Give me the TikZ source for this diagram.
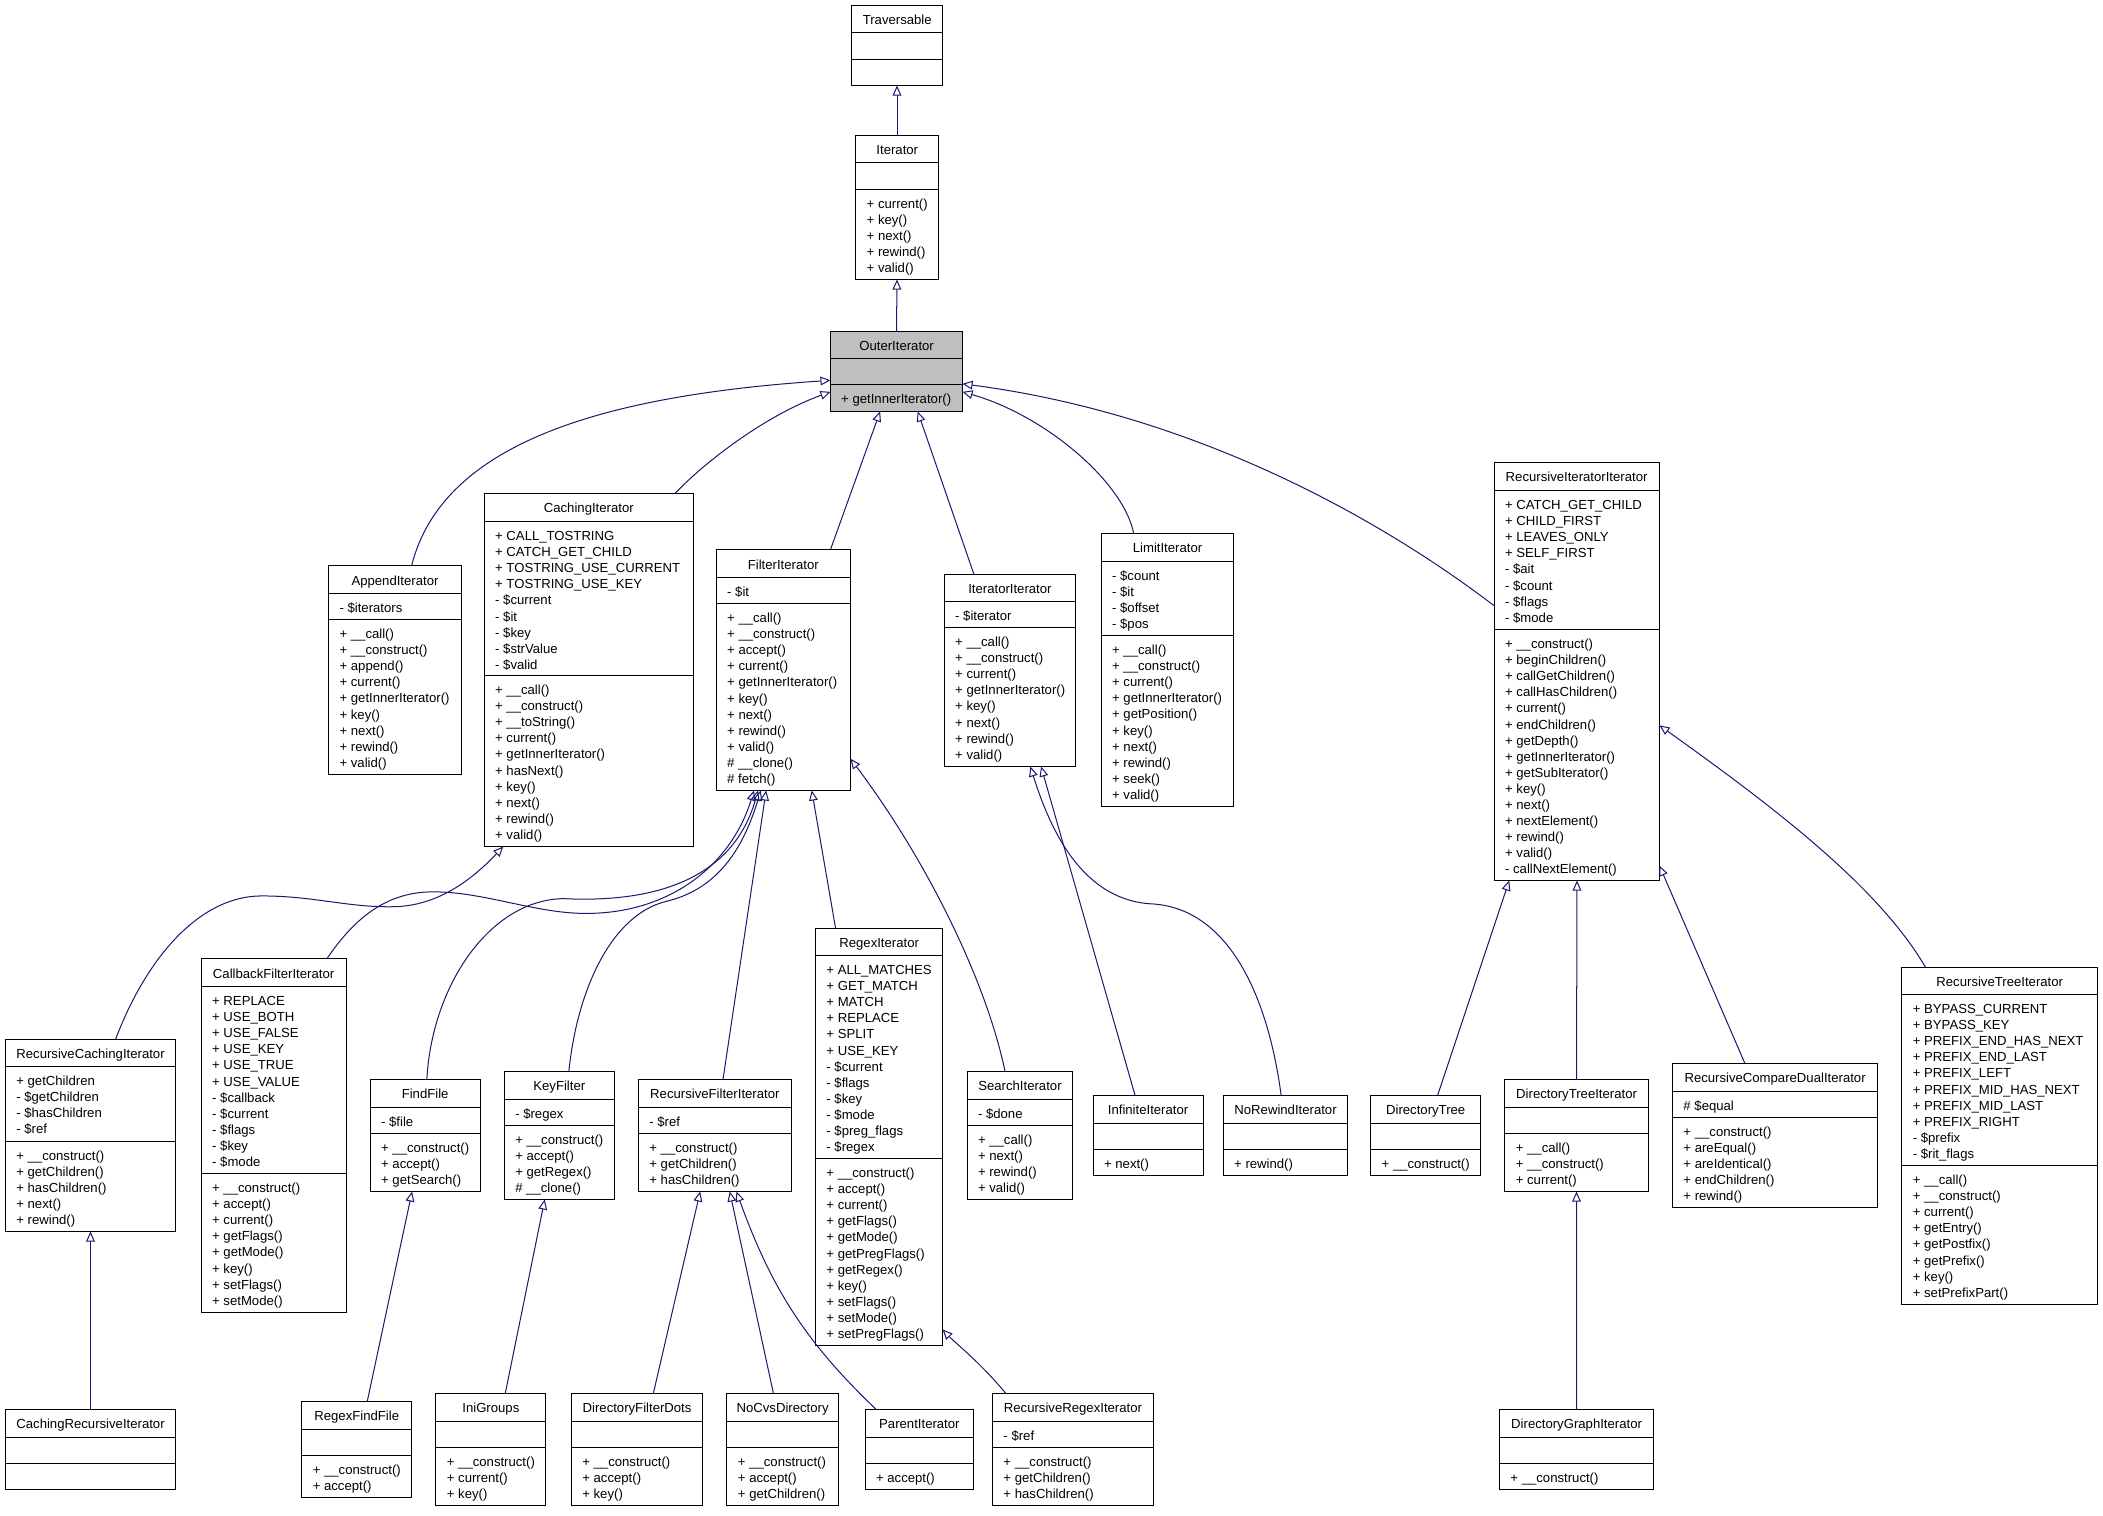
\documentclass[tikz,border=0pt]{standalone}
\usepackage{fontspec}
\setmainfont{Liberation Sans}
\usetikzlibrary{arrows.meta}
\definecolor{edgeblue}{RGB}{25,25,112}
\definecolor{hlgray}{RGB}{191,191,191}
\newcommand{\clsfill}{white}
\pgfmathdeclarefunction{snap}{1}{\pgfmathparse{(floor(#1*1.341199)+0.5)/1.341199}}
\tikzset{
  clsbox/.style={draw=black, line width=0.75pt, inner sep=0pt, outer sep=0pt},
  clsline/.style={draw=black, line width=0.75pt},
  clstitle/.style={anchor=base, inner sep=0pt, font=\fontsize{9.8}{12}\selectfont},
  clstext/.style={anchor=north west, align=left, inner sep=0pt, font=\fontsize{9.8}{12}\selectfont},
  myedge/.style={draw=edgeblue, line width=0.75pt, -{Triangle[open, length=7.5pt, width=6.5pt]}}
}
% #1 name, #2 left, #3 top, #4 right, #5 title, #6 n attrs, #7 attrs, #8 n methods, #9 methods
\newcommand{\cls}[9]{%
  \pgfmathsetmacro{\cxl}{snap(#2)}%
  \pgfmathsetmacro{\cxr}{snap(#4)}%
  \pgfmathsetmacro{\cyt}{snap(#3)}%
  \pgfmathsetmacro{\cya}{snap(#3+20.5)}%
  \pgfmathsetmacro{\cyb}{snap(#3+20.5+12*max(#6,1)+7.5)}%
  \pgfmathsetmacro{\cyc}{snap(#3+20.5+12*max(#6,1)+7.5+12*max(#8,1)+7.5)}%
  \pgfmathsetmacro{\cwd}{\cxr-\cxl}%
  \pgfmathsetmacro{\cht}{\cyc-\cyt}%
  \node[clsbox, fill=\clsfill, minimum width=\cwd pt, minimum height=\cht pt, anchor=north west] (#1) at (\cxl,-\cyt) {};
  \draw[clsline] (\cxl,-\cya) -- (\cxr,-\cya);
  \draw[clsline] (\cxl,-\cyb) -- (\cxr,-\cyb);
  \node[clstitle] (#1-t) at ({(#2+#4)/2},{-#3-14.3}) {#5};
  \node[clstext] (#1-a) at ({#2+8},{-\cya-5.6}) {\strut #7};
  \node[clstext] (#1-m) at ({#2+8},{-\cyb-5.6}) {\strut #9};
}
\begin{document}
\begin{tikzpicture}[x=1pt, y=1pt]
\fill[white] (0,0) rectangle (1568,-1130);
\useasboundingbox (0,0) rectangle (1568,-1130);

\cls{trav}{635}{4}{703}{Traversable}{0}{}{0}{}
\cls{iter}{638}{101}{700}{Iterator}{0}{}{5}{+ current()\\+ key()\\+ next()\\+ rewind()\\+ valid()}
\renewcommand{\clsfill}{hlgray}
\cls{outer}{619}{247}{718}{OuterIterator}{0}{}{1}{+ getInnerIterator()}
\renewcommand{\clsfill}{white}

\cls{append}{245}{422}{344}{AppendIterator}{1}{- \$iterators}{9}{+ \_\_call()\\+ \_\_construct()\\+ append()\\+ current()\\+ getInnerIterator()\\+ key()\\+ next()\\+ rewind()\\+ valid()}
\cls{caching}{361}{368}{517}{CachingIterator}{9}{+ CALL\_TOSTRING\\+ CATCH\_GET\_CHILD\\+ TOSTRING\_USE\_CURRENT\\+ TOSTRING\_USE\_KEY\\- \$current\\- \$it\\- \$key\\- \$strValue\\- \$valid}{10}{+ \_\_call()\\+ \_\_construct()\\+ \_\_toString()\\+ current()\\+ getInnerIterator()\\+ hasNext()\\+ key()\\+ next()\\+ rewind()\\+ valid()}
\cls{filter}{534}{410}{634}{FilterIterator}{1}{- \$it}{11}{+ \_\_call()\\+ \_\_construct()\\+ accept()\\+ current()\\+ getInnerIterator()\\+ key()\\+ next()\\+ rewind()\\+ valid()\\\# \_\_clone()\\\# fetch()}
\cls{itit}{704}{428}{802}{IteratorIterator}{1}{- \$iterator}{8}{+ \_\_call()\\+ \_\_construct()\\+ current()\\+ getInnerIterator()\\+ key()\\+ next()\\+ rewind()\\+ valid()}
\cls{limit}{821}{398}{920}{LimitIterator}{4}{- \$count\\- \$it\\- \$offset\\- \$pos}{10}{+ \_\_call()\\+ \_\_construct()\\+ current()\\+ getInnerIterator()\\+ getPosition()\\+ key()\\+ next()\\+ rewind()\\+ seek()\\+ valid()}
\cls{rii}{1114}{345}{1237}{RecursiveIteratorIterator}{8}{+ CATCH\_GET\_CHILD\\+ CHILD\_FIRST\\+ LEAVES\_ONLY\\+ SELF\_FIRST\\- \$ait\\- \$count\\- \$flags\\- \$mode}{15}{+ \_\_construct()\\+ beginChildren()\\+ callGetChildren()\\+ callHasChildren()\\+ current()\\+ endChildren()\\+ getDepth()\\+ getInnerIterator()\\+ getSubIterator()\\+ key()\\+ next()\\+ nextElement()\\+ rewind()\\+ valid()\\- callNextElement()}

\cls{rci}{4}{775}{131}{RecursiveCachingIterator}{4}{+ getChildren\\- \$getChildren\\- \$hasChildren\\- \$ref}{5}{+ \_\_construct()\\+ getChildren()\\+ hasChildren()\\+ next()\\+ rewind()}
\cls{cbf}{150}{715}{258}{CallbackFilterIterator}{11}{+ REPLACE\\+ USE\_BOTH\\+ USE\_FALSE\\+ USE\_KEY\\+ USE\_TRUE\\+ USE\_VALUE\\- \$callback\\- \$current\\- \$flags\\- \$key\\- \$mode}{8}{+ \_\_construct()\\+ accept()\\+ current()\\+ getFlags()\\+ getMode()\\+ key()\\+ setFlags()\\+ setMode()}
\cls{findfile}{276}{805}{358}{FindFile}{1}{- \$file}{3}{+ \_\_construct()\\+ accept()\\+ getSearch()}
\cls{keyfilter}{376}{799}{458}{KeyFilter}{1}{- \$regex}{4}{+ \_\_construct()\\+ accept()\\+ getRegex()\\\# \_\_clone()}
\cls{rfi}{476}{805}{590}{RecursiveFilterIterator}{1}{- \$ref}{3}{+ \_\_construct()\\+ getChildren()\\+ hasChildren()}
\cls{regex}{608}{692}{703}{RegexIterator}{12}{+ ALL\_MATCHES\\+ GET\_MATCH\\+ MATCH\\+ REPLACE\\+ SPLIT\\+ USE\_KEY\\- \$current\\- \$flags\\- \$key\\- \$mode\\- \$preg\_flags\\- \$regex}{11}{+ \_\_construct()\\+ accept()\\+ current()\\+ getFlags()\\+ getMode()\\+ getPregFlags()\\+ getRegex()\\+ key()\\+ setFlags()\\+ setMode()\\+ setPregFlags()}
\cls{search}{721}{799}{800}{SearchIterator}{1}{- \$done}{4}{+ \_\_call()\\+ next()\\+ rewind()\\+ valid()}
\cls{infinite}{815}{817}{897}{InfiniteIterator}{0}{}{1}{+ next()}
\cls{norewind}{912}{817}{1005}{NoRewindIterator}{0}{}{1}{+ rewind()}
\cls{dirtree}{1022}{817}{1104}{DirectoryTree}{0}{}{1}{+ \_\_construct()}
\cls{dti}{1122}{805}{1229}{DirectoryTreeIterator}{0}{}{3}{+ \_\_call()\\+ \_\_construct()\\+ current()}
\cls{rcdi}{1247}{793}{1400}{RecursiveCompareDualIterator}{1}{\# \$equal}{5}{+ \_\_construct()\\+ areEqual()\\+ areIdentical()\\+ endChildren()\\+ rewind()}
\cls{rti}{1418}{721}{1564}{RecursiveTreeIterator}{10}{+ BYPASS\_CURRENT\\+ BYPASS\_KEY\\+ PREFIX\_END\_HAS\_NEXT\\+ PREFIX\_END\_LAST\\+ PREFIX\_LEFT\\+ PREFIX\_MID\_HAS\_NEXT\\+ PREFIX\_MID\_LAST\\+ PREFIX\_RIGHT\\- \$prefix\\- \$rit\_flags}{8}{+ \_\_call()\\+ \_\_construct()\\+ current()\\+ getEntry()\\+ getPostfix()\\+ getPrefix()\\+ key()\\+ setPrefixPart()}

\cls{cri}{4}{1051}{131}{CachingRecursiveIterator}{0}{}{0}{}
\cls{regexff}{225}{1045}{307}{RegexFindFile}{0}{}{2}{+ \_\_construct()\\+ accept()}
\cls{inigroups}{325}{1039}{407}{IniGroups}{0}{}{3}{+ \_\_construct()\\+ current()\\+ key()}
\cls{dfd}{426}{1039}{524}{DirectoryFilterDots}{0}{}{3}{+ \_\_construct()\\+ accept()\\+ key()}
\cls{nocvs}{542}{1039}{625}{NoCvsDirectory}{0}{}{3}{+ \_\_construct()\\+ accept()\\+ getChildren()}
\cls{parent}{645}{1051}{726}{ParentIterator}{0}{}{1}{+ accept()}
\cls{rri}{740}{1039}{860}{RecursiveRegexIterator}{1}{- \$ref}{3}{+ \_\_construct()\\+ getChildren()\\+ hasChildren()}
\cls{dgi}{1118}{1051}{1233}{DirectoryGraphIterator}{0}{}{1}{+ \_\_construct()}

% ---- inheritance connectors
\draw[myedge] (iter.north) -- (trav.south);
\draw[myedge] (outer.north) -- (iter.south);
\draw[myedge] ([xshift=62pt]append.north west) .. controls (330,-330) and (450,-295) .. ([yshift=-36.4pt]outer.north west);
\draw[myedge] ([xshift=142pt]caching.north west) .. controls (525,-345) and (570,-310) .. ([yshift=-45pt]outer.north west);
\draw[myedge] ([xshift=85pt]filter.north west) -- ([xshift=37pt]outer.south west);
\draw[myedge] ([xshift=22pt]itit.north west) -- ([xshift=65pt]outer.south west);
\draw[myedge] ([xshift=24pt]limit.north west) .. controls (838,-360) and (780,-310) .. ([yshift=-45pt]outer.north east);
\draw[myedge] ([yshift=-107pt]rii.north west) .. controls (1040,-395) and (900,-310) .. ([yshift=-39pt]outer.north east);

\draw[myedge] ([xshift=82pt]rci.north west) .. controls (110,-712) and (150,-668) .. (195,-668)
   .. controls (235,-668) and (260,-677) .. (295,-676)
   .. controls (325,-675) and (350,-658) .. ([xshift=14pt]caching.south west);
\draw[myedge] ([xshift=93.6pt]cbf.north west) .. controls (262,-688) and (285,-666) .. (320,-665)
   .. controls (360,-664) and (400,-682) .. (440,-681)
   .. controls (500,-680) and (545,-645) .. ([xshift=28pt]filter.south west);
\draw[myedge] ([xshift=42pt]findfile.north west) .. controls (322,-735) and (365,-671) .. (420,-670)
   .. controls (480,-673) and (545,-660) .. ([xshift=31pt]filter.south west);
\draw[myedge] ([xshift=48pt]keyfilter.north west) .. controls (430,-740) and (455,-682) .. (497,-672)
   .. controls (530,-664) and (552,-640) .. ([xshift=33pt]filter.south west);
\draw[myedge] ([xshift=63pt]rfi.north west) -- ([xshift=37pt]filter.south west);
\draw[myedge] ([xshift=15pt]regex.north west) -- ([xshift=71pt]filter.south west);
\draw[myedge] ([xshift=28pt]search.north west) .. controls (735,-730) and (690,-640) .. ([yshift=-156pt]filter.north east);

\draw[myedge] ([xshift=31pt]infinite.north west) -- ([xshift=72pt]itit.south west);
\draw[myedge] ([xshift=43pt]norewind.north west) .. controls (945,-740) and (915,-678) .. (860,-674)
   .. controls (810,-672) and (785,-625) .. ([xshift=64pt]itit.south west);

\draw[myedge] ([xshift=50pt]dirtree.north west) -- ([xshift=11pt]rii.south west);
\draw[myedge] (dti.north) -- (rii.south);
\draw[myedge] ([xshift=54pt]rcdi.north west) -- ([yshift=11pt]rii.south east);
\draw[myedge] ([xshift=18pt]rti.north west) .. controls (1400,-660) and (1320,-600) .. ([yshift=-196pt]rii.north east);

\draw[myedge] (cri.north) -- (rci.south);
\draw[myedge] ([xshift=49pt]regexff.north west) -- ([xshift=31pt]findfile.south west);
\draw[myedge] ([xshift=52pt]inigroups.north west) -- ([xshift=30pt]keyfilter.south west);
\draw[myedge] ([xshift=61pt]dfd.north west) -- ([xshift=46pt]rfi.south west);
\draw[myedge] ([xshift=35pt]nocvs.north west) -- ([xshift=68pt]rfi.south west);
\draw[myedge] ([xshift=8pt]parent.north west) .. controls (600,-1000) and (575,-960) .. ([xshift=73pt]rfi.south west);
\draw[myedge] ([xshift=10pt]rri.north west) .. controls (730,-1015) and (714,-1003) .. ([yshift=12pt]regex.south east);
\draw[myedge] (dgi.north) -- (dti.south);
\end{tikzpicture}
\end{document}
